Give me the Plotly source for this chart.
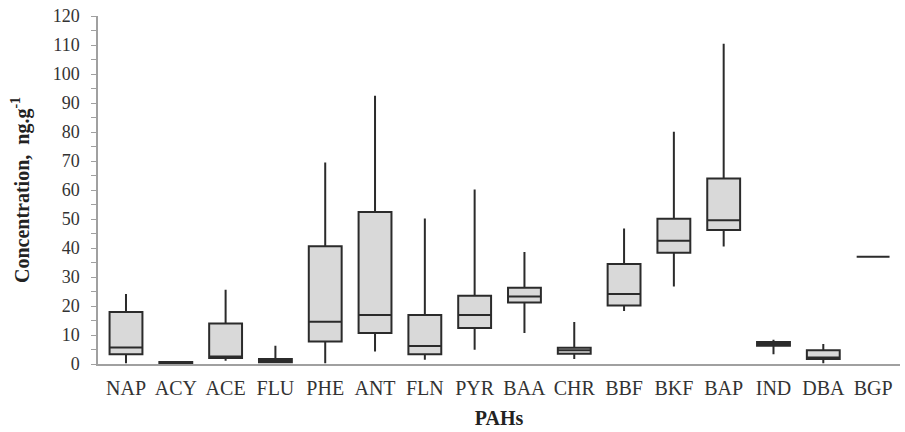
import plotly.graph_objects as go

categories = ["NAP", "ACY", "ACE", "FLU", "PHE", "ANT", "FLN", "PYR",
              "BAA", "CHR", "BBF", "BKF", "BAP", "IND", "DBA", "BGP"]
lower = [0.3, 0.3, 1.1, 0.3, 0.3, 4.3, 1.5, 4.9, 10.7, 1.7, 18.3, 26.7, 40.5, 3.4, 0.3, 37.0]
q1 =    [3.4, 0.3, 2.1, 0.6, 7.8, 10.7, 3.4, 12.4, 21.2, 3.5, 20.2, 38.4, 46.2, 6.3, 1.7, 37.0]
median = [5.7, 0.5, 2.6, 1.0, 14.6, 16.9, 6.2, 16.9, 23.3, 4.7, 24.1, 42.5, 49.6, 7.0, 2.2, 37.0]
q3 =    [17.9, 0.7, 14.0, 1.7, 40.6, 52.4, 16.9, 23.5, 26.3, 5.6, 34.5, 50.1, 64.0, 7.6, 4.7, 37.0]
upper = [24.1, 0.7, 25.6, 6.3, 69.5, 92.5, 50.2, 60.2, 38.6, 14.5, 46.7, 80.1, 110.4, 8.4, 6.9, 37.0]
y_ticks = list(range(0, 121, 10))

positions = list(range(len(categories)))
serif = "Liberation Serif, Times New Roman, serif"

fig = go.Figure()
fig.add_trace(go.Box(
    x=positions,
    q1=q1, median=median, q3=q3,
    lowerfence=lower, upperfence=upper,
    width=0.66,
    fillcolor="#d9d9d9",
    line=dict(color="#2b2b2b", width=2),
    whiskerwidth=0,
    boxpoints=False,
    showlegend=False,
    hoverinfo="skip",
))

fig.update_layout(
    width=905, height=432,
    margin=dict(l=98, r=5, t=16, b=68),
    paper_bgcolor="white", plot_bgcolor="white",
    font=dict(family=serif, color="#333333"),
    xaxis=dict(
        range=[-0.562, 15.54],
        automargin=False,
        tickmode="array", tickvals=positions, ticktext=categories,
        tickfont=dict(size=20, family=serif, color="#333333"),
        showline=True, linecolor="#a0a0a0", linewidth=1.5,
        ticks="", showgrid=False, zeroline=False,
        ticklabelstandoff=5,
        title=dict(text="<b>PAHs</b>", font=dict(size=20, family=serif, color="#222222"), standoff=13),
    ),
    yaxis=dict(
        range=[0, 120],
        automargin=False,
        tickmode="array", tickvals=y_ticks,
        tickfont=dict(size=18, family=serif, color="#333333"),
        showline=True, linecolor="#a0a0a0", linewidth=1.5,
        ticks="outside", ticklen=5, tickcolor="#a0a0a0", tickwidth=1,
        minor=dict(dtick=5, ticks="outside", ticklen=5, tickcolor="#a0a0a0", tickwidth=1, showgrid=False),
        showgrid=False, zeroline=False,
        ticklabelstandoff=8,
        title=dict(text="<b>Concentration,  ng.g<sup>-1</sup></b>", font=dict(size=20, family=serif, color="#222222"), standoff=18),
    ),
)

# remove the page's default 8px body margin so the figure fills the window
fig.write_html("out.html", config={"displayModeBar": False},
               post_script="document.body.style.margin='0';")
